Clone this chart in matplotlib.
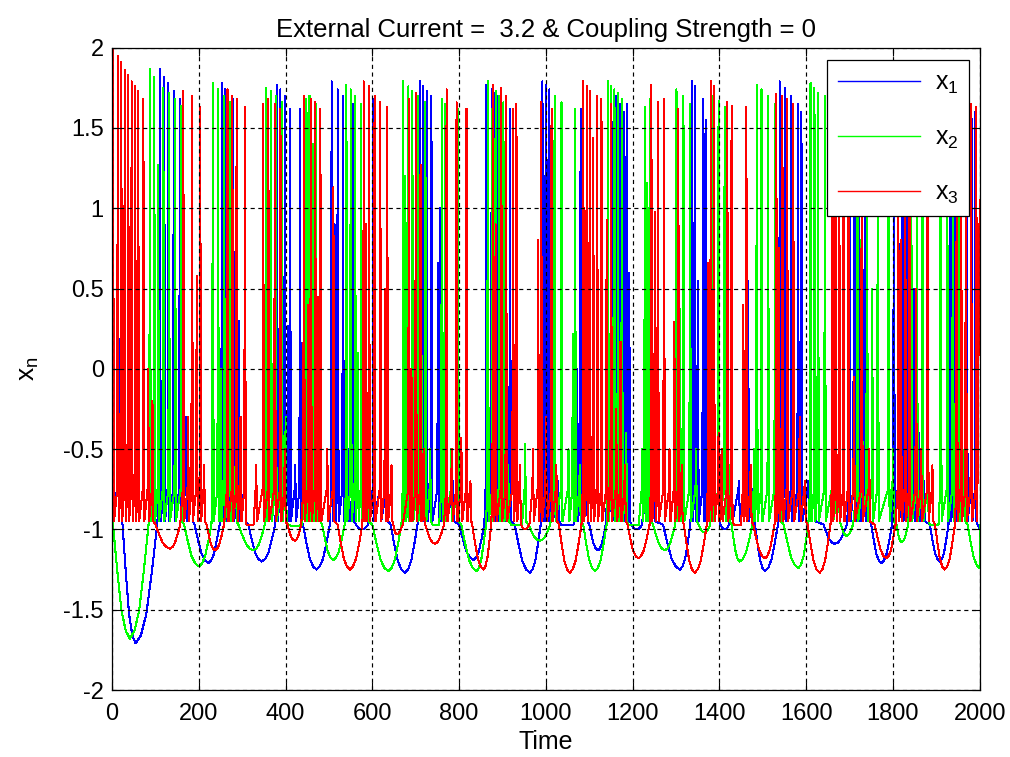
import matplotlib
matplotlib.use("Agg")
import matplotlib.pyplot as plt

plt.rcParams['font.family'] = ['Liberation Sans', 'DejaVu Sans']
plt.rcParams['axes.unicode_minus'] = False
plt.rcParams['mathtext.fontset'] = 'custom'
plt.rcParams['mathtext.rm'] = 'Liberation Sans'
plt.rcParams['mathtext.it'] = 'Liberation Sans'

# spikes: (time, peak value)
# troughs: (start, time of minimum, minimum, end)
blue_start, blue_end = -0.8, -1.0
blue_spikes = [
    (20, 1.17),
    (110, 1.87), (120, 1.82), (129, 1.78), (142, 1.73), (156, 1.68), (170, -0.3), (184, 0.7),
    (253, 1.78), (260, 1.74), (268, 1.72), (279, 1.68), (292, 0.3), (306, 1.63),
    (380, 1.77), (388, 1.74), (398, 1.70), (405, 0.27), (410, 1.62), (422, -0.6), (433, 1.62),
    (506, 1.79), (513, 0.9), (520, 1.74), (532, 1.70), (545, -0.5), (556, 1.65),
    (602, 1.68), (618, -0.6), (634, 1.62),
    (710, 1.79), (717, 1.76), (725, 1.73), (736, 1.70), (751, 0.66), (756, 1.0), (770, -0.5), (786, -0.7),
    (862, 1.77), (866, 0.2), (875, 1.74), (882, 1.72), (890, 1.70), (903, -0.4), (917, 1.62),
    (992, 1.79), (996, 1.2), (1000, 1.77), (1004, 1.3), (1008, 1.74), (1014, -0.3), (1028, -0.7),
    (1072, 0.0), (1080, 1.62), (1094, -0.65),
    (1143, 1.78), (1151, 1.75), (1162, 1.70), (1172, 1.65), (1180, 1.60), (1186, 1.65), (1192, 0.6),
    (1228, -0.75), (1250, -0.68),
    (1337, 1.79), (1343, 1.76), (1350, 0.55), (1362, 1.68), (1368, 1.55), (1374, 0.6), (1386, 1.65), (1398, -0.6),
    (1428, 1.39), (1445, -0.7), (1466, 0.55), (1478, -0.75),
    (1539, 1.79), (1551, 1.75), (1566, 1.70), (1581, 1.65), (1589, 1.60), (1605, -0.7), (1620, -0.75),
    (1700, 1.75), (1710, 1.72), (1716, 0.95), (1722, 1.70), (1727, 0.5), (1735, 1.65), (1745, -0.5),
    (1802, 1.75), (1812, 1.72), (1822, 1.70), (1832, 1.68), (1842, 1.65), (1849, 0.5), (1860, -0.4), (1872, -0.7),
    (1932, 1.75), (1942, 1.72), (1955, 1.68), (1970, 1.65), (1981, 1.62), (1990, 1.60),
]
blue_troughs = [
    (24, 54, -1.71, 104), (190, 222, -1.21, 248), (314, 345, -1.20, 376),
    (440, 471, -1.25, 502), (562, 575, -1.0, 590), (642, 675, -1.27, 704),
    (800, 833, -1.19, 858), (928, 963, -1.27, 988), (1035, 1050, -0.97, 1064),
    (1100, 1120, -1.13, 1138), (1196, 1209, -1.0, 1222), (1270, 1309, -1.25, 1333),
    (1402, 1413, -1.0, 1422), (1482, 1505, -1.26, 1535), (1640, 1666, -1.09, 1694),
    (1750, 1773, -1.21, 1798), (1885, 1908, -1.20, 1928),
]

green_start, green_end = -0.85, -1.24
green_spikes = [
    (87, 1.87), (97, 1.82), (106, 1.27), (118, 1.75), (131, 1.72), (145, 1.68), (159, 1.64),
    (232, 1.78), (244, 1.74), (250, 0.0), (258, 1.70), (272, 1.66), (285, -0.5),
    (355, 1.75), (366, 1.73), (377, 1.70), (391, 1.66), (400, -0.3),
    (445, 1.07), (448, 1.68), (455, 1.70), (464, 1.40), (470, 1.65), (478, -0.5),
    (540, 1.77), (550, 1.74), (560, 1.70), (566, 0.1), (574, 1.65), (588, -0.6),
    (671, 1.79), (676, 1.2), (683, 1.76), (692, 1.73), (704, 1.70), (712, 1.27), (722, 1.66), (733, -0.5),
    (760, 1.68), (767, 1.65), (782, -0.5), (797, 1.62),
    (866, 1.79), (877, 1.75), (884, 1.73), (892, 1.70), (902, 1.66), (913, -0.6),
    (952, -0.47),
    (1020, 1.70), (1036, 1.66), (1052, -0.5), (1062, 0.22), (1067, 1.62), (1078, -0.6),
    (1143, 1.79), (1150, 1.76), (1158, 1.74), (1166, 1.72), (1175, 1.68), (1185, -0.4),
    (1222, -0.5), (1228, 1.63), (1234, 1.16), (1240, 1.68),
    (1301, 1.74), (1309, 0.37), (1317, 1.70), (1332, 1.65), (1346, -0.5),
    (1385, 1.70), (1398, 1.67), (1412, 1.63), (1422, -0.6),
    (1480, -0.5), (1486, 1.77), (1497, 1.74), (1512, 1.70), (1528, 1.65), (1540, -0.6),
    (1610, 1.78), (1619, 1.75), (1627, 1.72), (1643, 1.70), (1660, 0.0), (1675, -0.6),
    (1718, 1.70), (1728, 1.68), (1740, 1.65), (1752, 0.5), (1765, 1.60), (1790, 1.60), (1800, -0.5),
    (1842, 1.65), (1855, 1.62), (1868, 1.60), (1880, -0.2),
    (1910, 1.65), (1925, 1.62), (1938, 1.60), (1952, 1.58), (1965, -0.5),
]
green_troughs = [
    (2, 41, -1.68, 84), (166, 200, -1.23, 229), (291, 326, -1.13, 352),
    (405, 420, -0.98, 438), (484, 510, -1.19, 536), (600, 637, -1.26, 667),
    (738, 745, -0.97, 754), (805, 840, -1.26, 862), (920, 934, -0.97, 945),
    (960, 986, -1.07, 1010), (1086, 1113, -1.26, 1140), (1190, 1201, -0.97, 1214),
    (1247, 1274, -1.13, 1298), (1352, 1366, -1.02, 1379), (1428, 1447, -1.20, 1476),
    (1548, 1582, -1.24, 1605), (1680, 1693, -1.04, 1708), (1808, 1820, -1.08, 1835),
    (1885, 1895, -0.97, 1905), (1972, 2000, -1.24, 2001),
]

red_start, red_end = -1.3, 1.05
red_spikes = [
    (2, 1.99), (13, 1.95), (21, 1.91), (29, 1.86), (37, 1.83), (45, 1.79), (53, 1.76),
    (60, 1.73), (72, 1.68), (83, 0.0), (93, -0.2),
    (164, 1.73), (175, -0.3), (184, 1.70), (195, 0.58), (203, 1.63), (212, -0.6),
    (266, 1.74), (277, 1.70), (287, 1.68), (296, -0.3), (306, 1.63),
    (332, -0.6), (348, 1.65), (360, 1.68), (375, 1.65), (388, 1.62), (398, -0.5),
    (442, 1.70), (452, 0.4), (458, 1.68), (468, 1.66), (474, 0.45), (480, 1.62), (496, -0.5), (510, 1.13),
    (580, 1.79), (585, 0.9), (592, 1.76), (605, 1.70), (618, 1.66), (629, 0.5), (634, 1.63), (644, -0.6),
    (684, 1.68), (690, 0.0), (700, 1.72), (711, 1.27), (718, -0.5),
    (771, 1.74), (783, -0.5), (794, 1.66), (805, -0.43), (817, 1.62), (826, -0.7),
    (878, 1.77), (884, 0.9), (897, 1.75), (908, 1.70), (924, 1.62), (932, 1.65), (940, -0.6),
    (970, -0.5), (982, 0.8), (989, 1.66), (1000, -0.3), (1013, 1.62), (1024, -0.6),
    (1086, 1.79), (1094, 1.76), (1101, 1.73), (1109, 1.44), (1118, 1.70), (1128, 1.68),
    (1140, 0.93), (1150, 1.65), (1162, -0.25), (1172, 0.17), (1182, -0.6),
    (1243, 1.77), (1251, 0.98), (1258, 1.66), (1272, 1.68), (1285, -0.5), (1296, 0.29), (1305, 1.62), (1313, -0.6),
    (1374, 0.66), (1380, 1.79), (1387, 1.76), (1398, -0.4), (1405, -0.5), (1418, 1.66), (1428, 1.64),
    (1455, 0.4), (1462, 1.63), (1472, -0.6),
    (1531, 1.71), (1537, 0.75), (1545, 1.70), (1556, 1.68), (1570, 1.65), (1585, -0.3), (1597, -0.7),
    (1660, 1.72), (1668, 1.70), (1676, 1.68), (1686, 1.66), (1697, 1.64), (1710, -0.05), (1728, 1.60), (1745, -0.5),
    (1812, 1.65), (1818, 0.8), (1828, 1.62), (1838, 1.60), (1853, 0.5), (1865, -0.5), (1880, 1.55), (1891, -0.6),
    (1947, 1.66), (1957, 1.70), (1968, 1.68), (1980, 1.65), (1992, 1.63),
]
red_troughs = [
    (100, 133, -1.12, 157), (218, 237, -1.13, 258), (310, 316, -0.97, 326),
    (404, 421, -1.07, 436), (520, 548, -1.25, 577), (648, 656, -1.03, 670),
    (722, 744, -1.09, 765), (830, 856, -1.25, 874), (943, 950, -1.0, 962),
    (1030, 1055, -1.27, 1082), (1188, 1213, -1.18, 1239), (1318, 1343, -1.27, 1371),
    (1434, 1442, -0.97, 1450), (1478, 1505, -1.18, 1527), (1603, 1631, -1.27, 1656),
    (1758, 1785, -1.18, 1806), (1897, 1919, -1.25, 1943),
]

y_ticks = [-2, -1.5, -1, -0.5, 0, 0.5, 1, 1.5, 2]
y_tick_labels = ['-2', '-1.5', '-1', '-0.5', '0', '0.5', '1', '1.5', '2']
x_ticks = [0, 200, 400, 600, 800, 1000, 1200, 1400, 1600, 1800, 2000]

# shape of a trough relative to its depth, from start to minimum
TB = -0.97
POS = [0, 0.25, 0.5, 0.75, 1.0]
SHAPE = [0, 0.4, 0.75, 0.93, 1.0]


def trace(v0, spikes, troughs, v_end):
    ev = [(t, 's', p) for t, p in spikes] + [(tr[1], 't', tr) for tr in troughs]
    ev.sort(key=lambda e: e[0])
    ts, vs = [0.0], [v0]

    def add(t, v):
        if t > ts[-1]:
            ts.append(t)
            vs.append(v)

    for key, kind, val in ev:
        if kind == 's':
            add(key - 1.2, -0.75)
            add(key, val)
            add(key + 2.2, -0.95)
        else:
            t0, tm, vm, t1 = val
            for f, s in zip(POS, SHAPE):
                add(t0 + (tm - t0) * f, TB + (vm - TB) * s)
            for f, s in zip(POS[1:], SHAPE[::-1][1:]):
                add(tm + (t1 - tm) * f, TB + (vm - TB) * s)
    add(2000, v_end)
    return ts, vs


fig = plt.figure(figsize=(10.1, 7.57), dpi=100)
ax = fig.add_axes([0.111, 0.0885, 0.859, 0.8485])

bt, bv = trace(blue_start, blue_spikes, blue_troughs, blue_end)
gt, gv = trace(green_start, green_spikes, green_troughs, green_end)
rt, rv = trace(red_start, red_spikes, red_troughs, red_end)

l1, = ax.plot(bt, bv, color=(0, 0, 1), lw=0.75, antialiased=False, label=r'$\mathrm{x_1}$')
l2, = ax.plot(gt, gv, color=(0, 1, 0), lw=0.75, antialiased=False, label=r'$\mathrm{x_2}$')
l3, = ax.plot(rt, rv, color=(1, 0, 0), lw=0.75, antialiased=False, label=r'$\mathrm{x_3}$')

ax.set_xlim(0, 2000)
ax.set_ylim(-2, 2)
ax.set_xticks(x_ticks)
ax.set_yticks(y_ticks)
ax.set_yticklabels(y_tick_labels)
ax.tick_params(direction='in', length=6, width=0.8, top=True, right=True,
               labelsize=17, pad=6)
ax.tick_params(axis='x', pad=9)
ax.set_axisbelow(False)
ax.grid(True, color='k', linestyle=(0, (3.5, 3)), linewidth=0.85)
for sp in ax.spines.values():
    sp.set_linewidth(0.9)

ax.set_title('External Current =  3.2 & Coupling Strength = 0', fontsize=18.5, pad=8)
ax.set_xlabel('Time', fontsize=18, labelpad=4)
ax.set_ylabel(r'$\mathrm{x_n}$', fontsize=19, labelpad=16)

leg = ax.legend(loc='upper right', bbox_to_anchor=(0.988, 0.981), borderaxespad=0,
                fontsize=18, handlelength=3.3, labelspacing=1.2, borderpad=0.42,
                handletextpad=0.6, fancybox=False, framealpha=1, edgecolor='k')
leg.get_frame().set_linewidth(0.9)
for h in leg.get_lines():
    h.set_antialiased(True)
    h.set_linewidth(1.0)

fig.savefig('out.png', dpi=100)
